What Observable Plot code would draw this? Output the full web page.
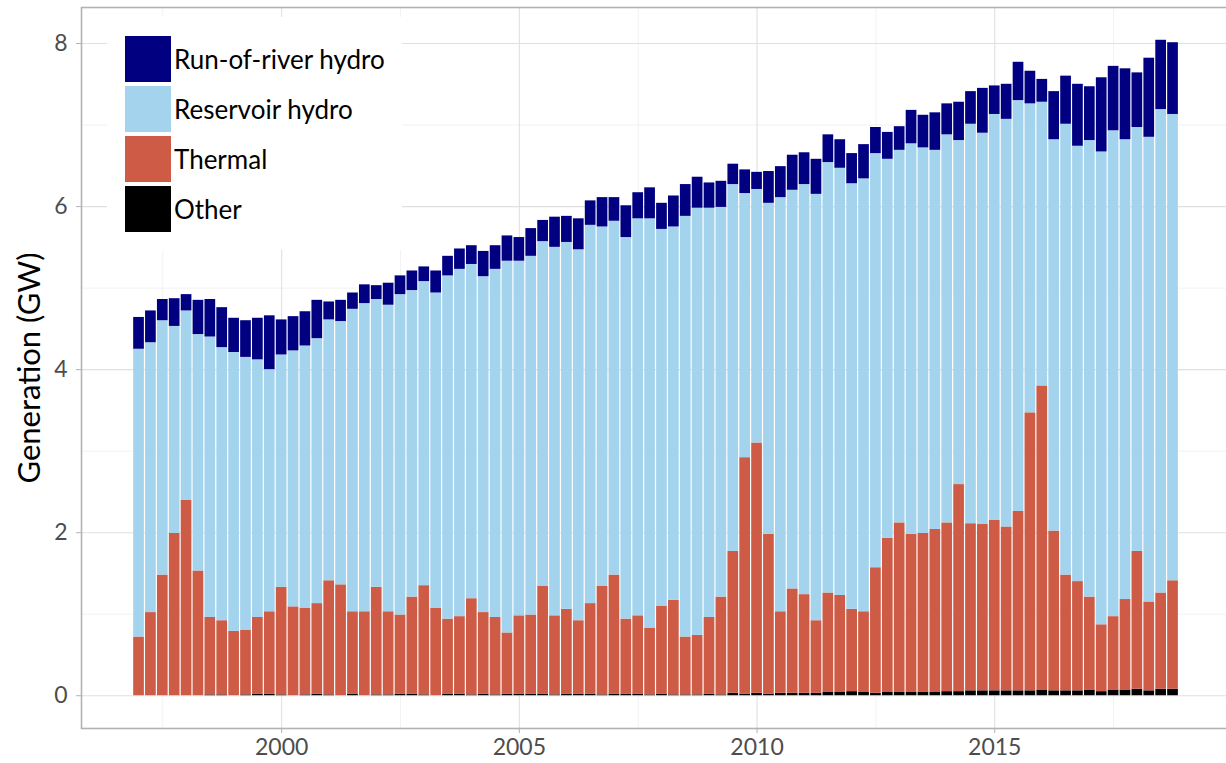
<!DOCTYPE html>
<html>
<head>
<meta charset="utf-8">
<script src="https://cdn.jsdelivr.net/npm/d3@7"></script>
<script src="https://cdn.jsdelivr.net/npm/@observablehq/plot@0.6"></script>
<style>
  html, body { margin: 0; padding: 0; background: #fff; overflow: hidden; }
  #wrap { position: relative; width: 1226px; height: 763px; overflow: hidden; font-family: Lato, "Noto Sans", sans-serif; }
  #wrap svg { max-width: none !important; }
  #legend { position: absolute; left: 107px; top: 17px; width: 295px; height: 233px; background: #fff; }
  .item { position: absolute; left: 18px; height: 46px; display: flex; align-items: center; }
  .key { width: 46px; height: 46px; margin-right: 3px; }
  .lab { font-size: 26px; color: #000; }
</style>
</head>
<body>
<div id="wrap"></div>
<script>
const quarters = [
  "1997Q1","1997Q2","1997Q3","1997Q4","1998Q1","1998Q2","1998Q3","1998Q4",
  "1999Q1","1999Q2","1999Q3","1999Q4","2000Q1","2000Q2","2000Q3","2000Q4",
  "2001Q1","2001Q2","2001Q3","2001Q4","2002Q1","2002Q2","2002Q3","2002Q4",
  "2003Q1","2003Q2","2003Q3","2003Q4","2004Q1","2004Q2","2004Q3","2004Q4",
  "2005Q1","2005Q2","2005Q3","2005Q4","2006Q1","2006Q2","2006Q3","2006Q4",
  "2007Q1","2007Q2","2007Q3","2007Q4","2008Q1","2008Q2","2008Q3","2008Q4",
  "2009Q1","2009Q2","2009Q3","2009Q4","2010Q1","2010Q2","2010Q3","2010Q4",
  "2011Q1","2011Q2","2011Q3","2011Q4","2012Q1","2012Q2","2012Q3","2012Q4",
  "2013Q1","2013Q2","2013Q3","2013Q4","2014Q1","2014Q2","2014Q3","2014Q4",
  "2015Q1","2015Q2","2015Q3","2015Q4","2016Q1","2016Q2","2016Q3","2016Q4",
  "2017Q1","2017Q2","2017Q3","2017Q4","2018Q1","2018Q2","2018Q3","2018Q4"
];

const runOfRiver = [
  0.39,0.39,0.26,0.34,0.20,0.42,0.46,0.49,0.42,0.45,
  0.51,0.66,0.43,0.42,0.42,0.47,0.22,0.26,0.20,0.23,
  0.17,0.27,0.23,0.24,0.18,0.27,0.24,0.25,0.23,0.31,
  0.29,0.31,0.29,0.34,0.26,0.37,0.32,0.38,0.30,0.36,
  0.29,0.39,0.32,0.38,0.32,0.38,0.39,0.38,0.31,0.32,
  0.25,0.29,0.21,0.39,0.38,0.43,0.39,0.43,0.34,0.35,
  0.37,0.42,0.32,0.33,0.29,0.41,0.40,0.46,0.38,0.47,
  0.40,0.55,0.35,0.43,0.47,0.40,0.28,0.59,0.59,0.76,
  0.66,0.91,0.79,0.87,0.67,0.97,0.85,0.88
];
const reservoir = [
  3.53,3.31,3.12,2.54,2.32,2.90,3.44,3.35,3.42,3.35,
  3.16,2.97,2.85,3.14,3.22,3.25,3.20,3.23,3.71,3.78,
  3.53,3.76,3.93,3.76,3.73,3.87,4.21,4.26,4.10,4.12,
  4.27,4.56,4.35,4.40,4.23,4.52,4.50,4.55,4.64,4.41,
  4.34,4.68,4.87,5.02,4.62,4.58,5.16,5.24,5.02,4.78,
  4.50,3.24,3.11,4.06,5.08,4.89,5.03,5.23,5.28,5.24,
  5.22,5.31,5.08,4.65,4.57,4.79,4.73,4.65,4.76,4.22,
  4.90,4.80,4.98,5.00,5.04,3.79,3.48,4.80,5.53,5.34,
  5.60,5.80,5.96,5.64,5.20,5.70,5.93,5.72
];
const thermal = [
  0.72,1.02,1.48,1.99,2.40,1.53,0.95,0.91,0.79,0.79,
  0.94,1.01,1.32,1.09,1.06,1.11,1.40,1.36,1.01,1.03,
  1.32,1.02,0.97,1.19,1.34,1.07,0.92,0.95,1.18,1.00,
  0.95,0.75,0.96,0.97,1.32,0.97,1.04,0.90,1.11,1.33,
  1.46,0.92,0.96,0.82,1.08,1.16,0.71,0.73,0.94,1.20,
  1.74,2.90,3.07,1.96,1.00,1.28,1.21,0.89,1.22,1.19,
  1.01,0.99,1.54,1.89,2.08,1.94,1.95,2.00,2.07,2.54,
  2.05,2.04,2.09,2.01,2.20,3.41,3.73,1.96,1.42,1.34,
  1.14,0.82,0.90,1.11,1.69,1.09,1.18,1.33
];
const other = [
  0,0,0,0,0,0,0.01,0.01,0,0.01,
  0.02,0.02,0.01,0,0.01,0.02,0.01,0,0.02,0,
  0.01,0.01,0.02,0.02,0.01,0,0.02,0.02,0.01,0.02,
  0.01,0.02,0.02,0.02,0.02,0.01,0.02,0.02,0.02,0.01,
  0.02,0.02,0.02,0.01,0.02,0.01,0.01,0.01,0.02,0.01,
  0.03,0.02,0.03,0.02,0.03,0.03,0.03,0.03,0.04,0.04,
  0.05,0.04,0.03,0.04,0.04,0.04,0.04,0.04,0.05,0.05,
  0.06,0.06,0.06,0.06,0.06,0.06,0.07,0.06,0.06,0.06,
  0.07,0.05,0.07,0.07,0.08,0.06,0.08,0.08
];

const seriesNames = ["Run-of-river hydro", "Reservoir hydro", "Thermal", "Other"];
const seriesColors = ["#000080", "#a4d3ee", "#cd5b45", "#000000"];
const yTicks = [0, 2, 4, 6, 8];
const yMinor = [1, 3, 5, 7];
const xTicks = [2000, 2005, 2010, 2015];
const xMinor = [1997.5, 2002.5, 2007.5, 2012.5, 2017.5];

// stack bottom-up: Other, Thermal, Reservoir hydro, Run-of-river hydro
const stackOrder = [
  ["Other", other], ["Thermal", thermal],
  ["Reservoir hydro", reservoir], ["Run-of-river hydro", runOfRiver]
];
const rows = [];
quarters.forEach((q, i) => {
  const t = +q.slice(0, 4) + (+q.slice(5) - 1) / 4;
  let base = 0;
  for (const [name, arr] of stackOrder) {
    const v = arr[i];
    rows.push({series: name, x1: t - 0.1125, x2: t + 0.1125, y1: base, y2: base + v});
    base += v;
  }
});

const chart = Plot.plot({
  width: 1232,
  height: 763,
  marginLeft: 81,
  marginRight: 1,
  marginTop: 7,
  marginBottom: 35,
  style: {fontFamily: "Lato, 'Noto Sans', sans-serif", fontSize: "23px", background: "#fff"},
  x: {domain: [1995.79, 2019.98], axis: null},
  y: {domain: [-0.402, 8.442], axis: null},
  color: {domain: seriesNames, range: seriesColors},
  marks: [
    Plot.ruleY(yMinor, {stroke: "#ececec", strokeWidth: 0.7}),
    Plot.ruleX(xMinor, {stroke: "#ececec", strokeWidth: 0.7}),
    Plot.ruleY(yTicks, {stroke: "#e0e0e0", strokeWidth: 1.1}),
    Plot.ruleX(xTicks, {stroke: "#e0e0e0", strokeWidth: 1.1}),
    Plot.rect(rows, {x1: "x1", x2: "x2", y1: "y1", y2: "y2", fill: "series"}),
    Plot.frame({stroke: "#b3b3b3", strokeWidth: 1.6}),
    Plot.axisY({ticks: yTicks, tickSize: 5, tickFormat: () => "", color: "#b3b3b3", label: null}),
    Plot.axisY({ticks: yTicks, tickSize: 0, tickPadding: 14, tickFormat: d3.format("d"), color: "#4d4d4d", label: null}),
    Plot.axisX({ticks: xTicks, tickSize: 5, tickFormat: () => "", color: "#b3b3b3", label: null}),
    Plot.axisX({ticks: xTicks, tickSize: 0, tickPadding: 10, tickFormat: d3.format("d"), color: "#4d4d4d", label: null}),
    Plot.text(["Generation (GW)"], {frameAnchor: "left", text: d => d, rotate: -90, dx: -51, fontSize: 31, fill: "#000", textAnchor: "middle", lineAnchor: "middle"})
  ]
});
chart.style.maxWidth = "none";

const wrap = document.getElementById("wrap");
wrap.appendChild(chart);

const legend = document.createElement("div");
legend.id = "legend";
seriesNames.forEach((name, i) => {
  const item = document.createElement("div");
  item.className = "item";
  item.style.top = (19 + i * 50) + "px";
  const key = document.createElement("div");
  key.className = "key";
  key.style.background = seriesColors[i];
  const lab = document.createElement("span");
  lab.className = "lab";
  lab.textContent = name;
  item.appendChild(key);
  item.appendChild(lab);
  legend.appendChild(item);
});
wrap.appendChild(legend);
</script>
</body>
</html>
